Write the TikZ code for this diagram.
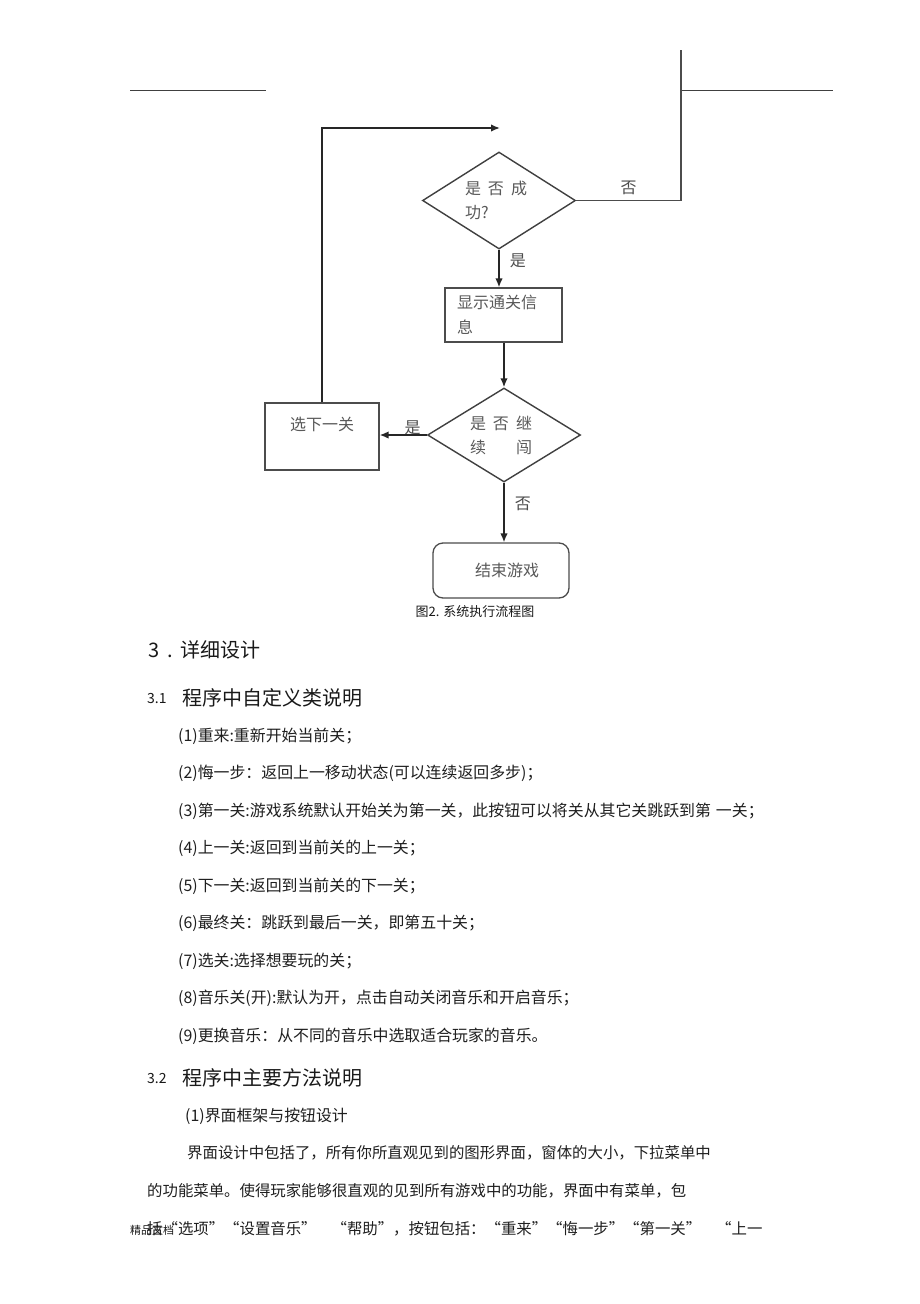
\documentclass[tikz,border=0pt]{standalone}
\usepackage{fontspec}
\setmainfont{Noto Sans CJK SC}
\usetikzlibrary{shapes,arrows,arrows.meta,positioning}
\tikzstyle{decision} = [diamond, aspect=1.6, draw=black!75, line width=1.4pt, text width=68pt,
    align=left, minimum width=153pt, minimum height=97pt, inner sep=0pt,
    font=\fontsize{16}{24}\selectfont, text=black!65]
\tikzstyle{block} = [rectangle, draw=black!70, line width=1.3pt,
    font=\fontsize{16}{25}\selectfont, text=black!65]
\tikzstyle{line} = [draw, line width=1.6pt, black!85, -{Latex[length=9pt,width=7.5pt]}]
\tikzstyle{rule} = [draw, line width=1pt, black!75]
\tikzstyle{tag} = [font=\fontsize{16}{18}\selectfont, text=black!70, inner sep=2pt]
\tikzstyle{body} = [anchor=west, inner sep=0pt, font=\fontsize{15.9}{18}\selectfont, text=black!88]
\tikzstyle{head} = [anchor=west, inner sep=0pt, font=\fontsize{20}{24}\selectfont, text=black!90]
\tikzset{
  small/.style ={anchor=west, inner sep=0pt, font=\fontsize{14}{16}\selectfont, text=black!90}
}
\begin{document}
\begin{tikzpicture}[x=1pt, y=-1pt]
   \fill [white] (0,0) rectangle (920,1304);
   \useasboundingbox (0,0) rectangle (920,1304);
   % header rules
   \path [rule] (130,90) -- (266,90);
   \path [rule] (681,90) -- (833,90);
   % flow chart
   \coordinate (fail_top) at (681,50);
   \coordinate (loop_end) at (500,128);
   \node [decision] (if_success) at (499,200.5) {是\hspace{7pt}否\hspace{7pt}成\\功?};
   \node [block, minimum width=117pt, minimum height=54pt, text width=93pt, align=left] (show_info) at (503.5,315) {显示通关信\\息};
   \node [decision, minimum height=94pt] (if_continue) at (504,435) {是\hspace{7pt}否\hspace{7pt}继\\续\hspace{30pt}闯};
   \node [block, minimum width=114pt, minimum height=67pt, align=center] (next_level) at (322,436.5) {选下一关\\\mbox{}};
   \node [block, rounded corners=10pt, minimum width=136pt, minimum height=55pt] (game_over) at (501,570.5) {\hspace{12pt}结束游戏};
   \node [font=\fontsize{13}{15}\selectfont, text=black!90] (caption) at (475,612) {图2. 系统执行流程图};
   \path [rule, line width=1.4pt, black!70] (if_success.east) -- node [tag, above=3pt] {否} (if_success.east -| fail_top) -- (fail_top);
   \path [line] (if_success.south) -- node [tag, right=8pt, pos=0.3] {是} (if_success.south |- show_info.north);
   \path [line] (if_continue.north |- show_info.south) -- (if_continue.north);
   \path [line] (if_continue.west) -- node [tag, above=-3pt, pos=0.3] {是} (if_continue.west -| next_level.east);
   \path [line] (if_continue.south) -- node [tag, right=8pt, pos=0.35] {否} (if_continue.south |- game_over.north);
   \path [line] (next_level.north) |- (loop_end);
   % text of the page
   \node [head] (sec3) at (148,650) {3\hspace{8pt}.\hspace{8pt}详细设计};
   \node [small] (sec31_no) at (147,698) {3.1};
   \node [head, right=15pt of sec31_no.east, anchor=west] (sec31) {程序中自定义类说明};
   \foreach \txt [count=\idx] in {{(1)重来:重新开始当前关；},
       {(2)悔一步：返回上一移动状态(可以连续返回多步)；},
       {(3)第一关:游戏系统默认开始关为第一关，此按钮可以将关从其它关跳跃到第\hspace{5pt}一关；},
       {(4)上一关:返回到当前关的上一关；},
       {(5)下一关:返回到当前关的下一关；},
       {(6)最终关：跳跃到最后一关，即第五十关；},
       {(7)选关:选择想要玩的关；},
       {(8)音乐关(开):默认为开，点击自动关闭音乐和开启音乐；},
       {(9)更换音乐：从不同的音乐中选取适合玩家的音乐。}}
     \node [body] (item\idx) at (178,{736+37.5*(\idx-1)}) {\txt};
   \node [small] (sec32_no) at (147,1078) {3.2};
   \node [head, right=15pt of sec32_no.east, anchor=west] (sec32) {程序中主要方法说明};
   \node [body] (method1) at (185,1116) {(1)界面框架与按钮设计};
   \node [body, font=\fontsize{15.4}{18}\selectfont] (para1) at (187,1153) {界面设计中包括了，所有你所直观见到的图形界面，窗体的大小，下拉菜单中};
   \node [body, font=\fontsize{15.4}{18}\selectfont] (para2) at (147,1191) {的功能菜单。使得玩家能够很直观的见到所有游戏中的功能，界面中有菜单，包};
   \node [body, font=\fontsize{15.4}{18}\selectfont] (para3) at (147,1229) {括“选项”“设置音乐”\hspace{15pt}“帮助”，按钮包括：“重来”“悔一步”“第一关”\hspace{15pt}“上一};
   \node [small, font=\fontsize{11}{13}\selectfont] (footer) at (130,1230) {精品文档};
\end{tikzpicture}
\end{document}
